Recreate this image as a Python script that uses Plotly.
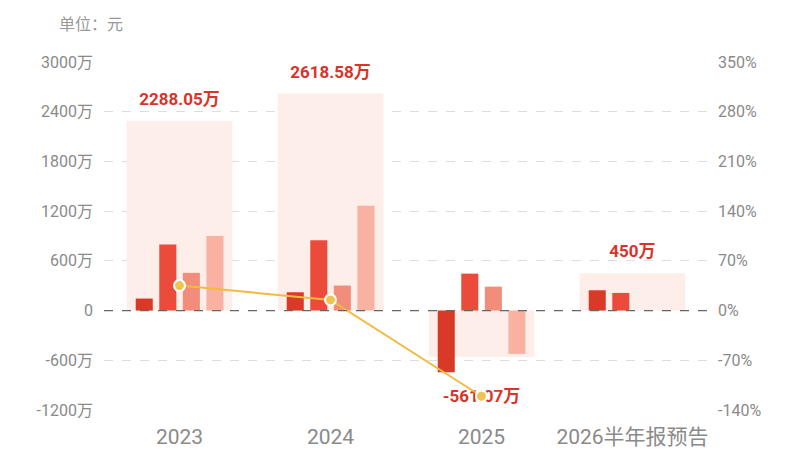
import plotly.graph_objects as go

# 数据
categories = ["2023", "2024", "2025", "2026半年报预告"]
total = [2288.05, 2618.58, -561.07, 450]          # 万元, 背景柱
total_labels = ["2288.05万", "2618.58万", "-561.07万", "450万"]
s1 = [145, 221, -744, 245]
s2 = [796, 848, 446, 213]
s3 = [455, 302, 289, None]
s4 = [900, 1266, -523, None]
growth = [35.2, 15.0, -120.6, None]              # %, 右轴

left_ticks = [-1200, -600, 0, 600, 1200, 1800, 2400, 3000]
left_text = ["-1200万", "-600万", "0", "600万", "1200万", "1800万", "2400万", "3000万"]
right_ticks = [-140, -70, 0, 70, 140, 210, 280, 350]
right_text = ["-140%", "-70%", "0%", "70%", "140%", "210%", "280%", "350%"]

FONT = "Roboto, 'Noto Sans CJK SC', sans-serif"
GRAY = "#8a8a8a"

fig = go.Figure()

# 背景柱
fig.add_trace(go.Bar(x=categories, y=total, width=0.70, offset=-0.35,
                     marker=dict(color="#fdeee9", line_width=0), showlegend=False))

bar_colors = ["#d93a27", "#eb4b3b", "#f18d7a", "#f9b1a2"]
offsets = [-0.29, -0.134, 0.022, 0.178]
for vals, c, off in zip([s1, s2, s3, s4], bar_colors, offsets):
    fig.add_trace(go.Bar(x=categories, y=vals, width=0.113, offset=off,
                         marker=dict(color=c, line_width=0), showlegend=False))

# 数值标签 (放在组内最高/最低处)
anchor_y = []
positions = []
pads = []
for t, a, b, c, d in zip(total, s1, s2, s3, s4):
    vals = [v for v in [t, a, b, c, d] if v is not None]
    if t >= 0:
        anchor_y.append(max(vals))
        positions.append("top center")
        pads.append(17)
    else:
        anchor_y.append(min(vals))
        positions.append("bottom center")
        pads.append(26)

fig.add_trace(go.Scatter(x=categories, y=anchor_y, mode="markers+text",
                         text=total_labels, textposition=positions,
                         marker=dict(size=pads, opacity=0), cliponaxis=False,
                         textfont=dict(family=FONT, size=17, color="#d9332a", weight="bold"),
                         showlegend=False, hoverinfo="skip"))

# 增长率折线
fig.add_trace(go.Scatter(x=categories, y=growth, yaxis="y2", mode="lines+markers",
                         line=dict(color="#f3bb3e", width=2), cliponaxis=False,
                         marker=dict(size=11, color="#efc552", line=dict(color="white", width=2)),
                         showlegend=False))

# 0 轴虚线
fig.add_shape(type="line", xref="paper", x0=0, x1=1, yref="y", y0=0, y1=0,
              line=dict(color="#666666", width=1.2, dash="dash"))

fig.add_annotation(text="单位：元", xref="paper", yref="paper", x=-0.078, y=1.109,
                   xanchor="left", yanchor="middle", showarrow=False,
                   font=dict(family=FONT, size=16, color="#999999"))

# 页面 body 有 8px 外边距, 这里在边距里抵掉
fig.update_layout(
    width=800, height=450,
    margin=dict(l=96, r=100, t=54, b=48),
    paper_bgcolor="white", plot_bgcolor="white",
    barmode="overlay",
    font=dict(family=FONT, color=GRAY),
    xaxis=dict(type="category", showgrid=False, zeroline=False, showline=False,
               automargin=False,
               tickfont=dict(size=21, color=GRAY), ticklabelstandoff=12),
    yaxis=dict(range=[-1200, 3000], tickvals=left_ticks, ticktext=left_text,
               showgrid=True, gridcolor="#dddddd", griddash="dash", gridwidth=1,
               zeroline=False, showline=False, automargin=False,
               tickfont=dict(size=16, color=GRAY), ticklabelstandoff=10),
    yaxis2=dict(range=[-140, 350], tickvals=right_ticks, ticktext=right_text,
                overlaying="y", side="right", showgrid=False, zeroline=False,
                showline=False, automargin=False,
                tickfont=dict(size=16, color=GRAY), ticklabelstandoff=9),
)

fig.write_html("out.html")
